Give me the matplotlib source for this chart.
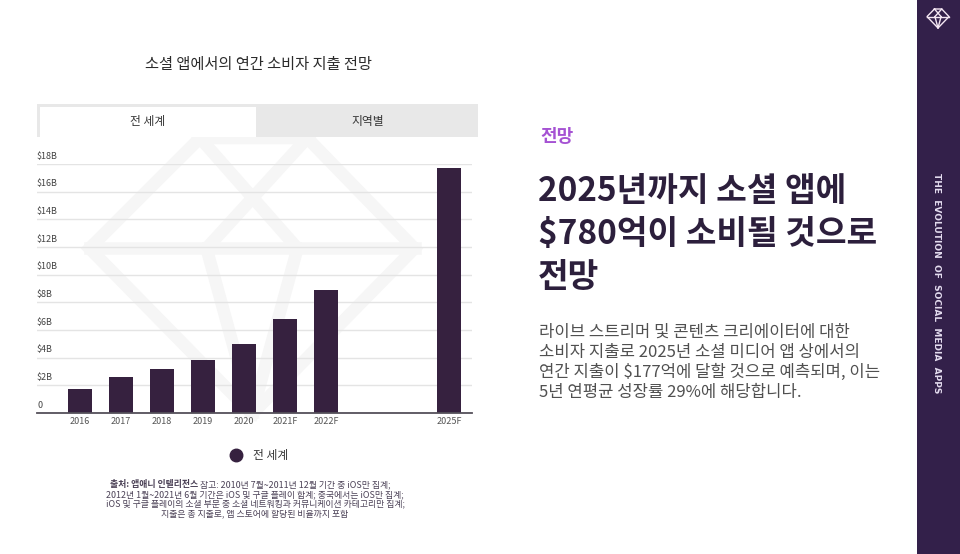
#!/usr/bin/env python3

# plot.py - social app consumer spend forecast (slide recreation)

import matplotlib
matplotlib.use("Agg")
import matplotlib.pyplot as plt
from matplotlib.lines import Line2D
from matplotlib.patches import Rectangle

plt.rcParams["font.family"] = ["Noto Sans CJK KR", "DejaVu Sans"]

W, H = 960, 554

# Data (billions USD)
years = ["2016", "2017", "2018", "2019", "2020", "2021F", "2022F", "2025F"]
spend = [1.7, 2.6, 3.2, 3.8, 5.0, 6.8, 8.9, 17.7]
y_ticks = [0, 2, 4, 6, 8, 10, 12, 14, 16, 18]
y_labels = ["0", "$2B", "$4B", "$6B", "$8B", "$10B", "$12B", "$14B", "$16B", "$18B"]

chart_title = "소셜 앱에서의 연간 소비자 지출 전망"
tab_labels = ["전 세계", "지역별"]
legend_label = "전 세계"
source_bold = "출처: 앱애니 인텔리전스"
source_lines = [
    "참고: 2010년 7월~2011년 12월 기간 중 iOS만 집계;",
    "2012년 1월~2021년 6월 기간은 iOS 및 구글 플레이 합계; 중국에서는 iOS만 집계;",
    "iOS 및 구글 플레이의 소셜 부문 중 소셜 네트워킹과 커뮤니케이션 카테고리만 집계;",
    "지출은 총 지출로, 앱 스토어에 할당된 비율까지 포함",
]
kicker = "전망"
headline = ["2025년까지 소셜 앱에", "$780억이 소비될 것으로", "전망"]
body = [
    "라이브 스트리머 및 콘텐츠 크리에이터에 대한",
    "소비자 지출로 2025년 소셜 미디어 앱 상에서의",
    "연간 지출이 $177억에 달할 것으로 예측되며, 이는",
    "5년 연평균 성장률 29%에 해당합니다.",
]
sidebar_text = "THE  EVOLUTION  OF  SOCIAL  MEDIA  APPS"

BAR = "#36213f"
SIDEBAR = "#33204a"


def fx(x):
    return x / W


def fy(y):
    return 1 - y / H


def draw_gem(fig, cx, top, w, h, color, lw, zorder):
    """Outline gem icon, used for the watermark and the logo."""
    segs = [
        [(-0.16, 0), (0.17, 0), (0.5, 0.4), (0, 1), (-0.5, 0.4), (-0.16, 0)],
        [(-0.5, 0.4), (0.5, 0.4)],
        [(-0.16, 0), (0.14, 0.4)],
        [(0.17, 0), (-0.14, 0.4)],
        [(-0.14, 0.4), (0, 1)],
        [(0.14, 0.4), (0, 1)],
    ]
    for seg in segs:
        xs = [fx(cx + u * w) for u, v in seg]
        ys = [fy(top + v * h) for u, v in seg]
        fig.add_artist(Line2D(xs, ys, transform=fig.transFigure, color=color,
                              lw=lw, solid_joinstyle="miter", zorder=zorder))


fig = plt.figure(figsize=(W / 100, H / 100), dpi=100, facecolor="white")

# Sidebar
fig.add_artist(Rectangle((fx(917), 0), fx(W - 917), 1, transform=fig.transFigure,
                         facecolor=SIDEBAR, edgecolor="none", zorder=-2))
fig.text(fx(936), fy(283), sidebar_text, rotation=-90, ha="center", va="center",
         fontsize=6.5, fontweight="bold", color="#e4dcef", family="DejaVu Sans")
draw_gem(fig, 938, 9, 22, 19, "#f4e6f2", 1.0, 3)

# Watermark
draw_gem(fig, 252, 138, 325, 276, "#f6f6f6", 9, -1)

# Title and tabs
fig.text(fx(258), fy(65), chart_title, ha="center", va="center", fontsize=11, color="#2b2b2b")
fig.add_artist(Rectangle((fx(37), fy(137)), fx(441), 33 / H, transform=fig.transFigure,
                         facecolor="#e8e8e8", edgecolor="none", zorder=-1))
fig.add_artist(Rectangle((fx(40), fy(137)), fx(216), 30 / H, transform=fig.transFigure,
                         facecolor="white", edgecolor="none", zorder=-1))
fig.text(fx(148), fy(121), tab_labels[0], ha="center", va="center", fontsize=8.5, color="#333333")
fig.text(fx(368), fy(121), tab_labels[1], ha="center", va="center", fontsize=8.5, color="#333333")

# Bar chart
ax = fig.add_axes([fx(37), fy(413), fx(435), 249 / H])
ax.set_facecolor("none")
xpos = [int(y[:4]) - int(years[0][:4]) for y in years]
ax.bar(xpos, spend, width=0.6, color=BAR, zorder=3, label=legend_label)
ax.set_xlim(-1.05, 9.56)
ax.set_ylim(0, 18)
ax.set_yticks(y_ticks)
ax.set_yticklabels([])
ax.tick_params(axis="y", length=0)
ax.grid(axis="y", color="#e4e4e4", lw=1, zorder=1)
for v, lab in zip(y_ticks, y_labels):
    ax.annotate(lab, (0, v), xycoords=ax.get_yaxis_transform(), xytext=(0, 2.5),
                textcoords="offset points", ha="left", va="bottom", fontsize=6.5,
                color="#444444")
ax.set_xticks(xpos)
ax.set_xticklabels(years, fontsize=6.5, color="#555555")
ax.tick_params(axis="x", length=0, pad=3)
for side in ["top", "right", "left"]:
    ax.spines[side].set_visible(False)
ax.spines["bottom"].set_color("#55505a")
ax.spines["bottom"].set_linewidth(1.3)
ax.spines["bottom"].set_zorder(4)

handle = Line2D([], [], marker="o", linestyle="none", markersize=9,
                markerfacecolor=BAR, markeredgecolor=BAR)
fig.legend([handle], [legend_label], loc="center", bbox_to_anchor=(fx(256), fy(456)),
           frameon=False, fontsize=8.5, handletextpad=0.4, labelcolor="#333333")

# Source notes
src_color = "#4b4156"
fig.text(fx(198), fy(485), source_bold, ha="right", va="center", fontsize=6.4,
         fontweight="bold", color=src_color, style="italic")
fig.text(fx(200), fy(485), source_lines[0], ha="left", va="center", fontsize=6.4,
         color=src_color, style="italic")
for i, line in enumerate(source_lines[1:]):
    fig.text(fx(255), fy(494.5 + i * 9.5), line, ha="center", va="center", fontsize=6.4,
             color=src_color, style="italic")

# Right-hand text
fig.text(fx(540), fy(137), kicker, ha="left", va="center", fontsize=13,
         fontweight="bold", color="#a552d3")
for i, line in enumerate(headline):
    fig.text(fx(538), fy(191 + i * 43), line, ha="left", va="center", fontsize=24,
             fontweight="bold", color="#2c1f3c")
for i, line in enumerate(body):
    fig.text(fx(539), fy(332 + i * 20), line, ha="left", va="center", fontsize=12,
             color="#505050")

fig.savefig("out.png", dpi=100, facecolor="white")
